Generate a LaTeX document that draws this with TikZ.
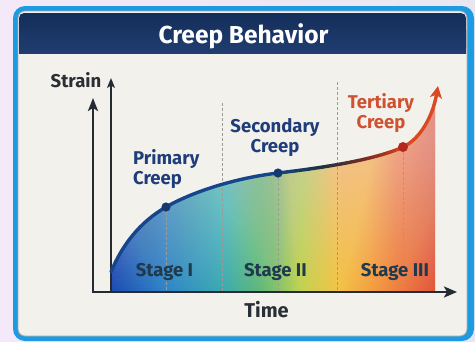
\documentclass[tikz,border=0pt]{standalone}
\usepackage{fontspec}
\setmainfont{Fira Sans}
\usetikzlibrary{arrows.meta}
\definecolor{pagebgL}{HTML}{F3E9F8}
\definecolor{pagebgR}{HTML}{E9E6F2}
\definecolor{cardblue}{HTML}{1D9BE2}
\definecolor{panel}{HTML}{F3F1EC}
\definecolor{panelline}{HTML}{A9A9A6}
\definecolor{navytop}{HTML}{152E5A}
\definecolor{navybot}{HTML}{1F3D6F}
\definecolor{axiscol}{HTML}{262B33}
\definecolor{labdark}{HTML}{2A2E35}
\definecolor{labblue}{HTML}{1E3D7A}
\definecolor{labred}{HTML}{CF5230}
\definecolor{stagecol}{HTML}{1F3A4C}
\definecolor{curveblue}{HTML}{17458C}
\definecolor{curvered}{HTML}{DA4A22}
\definecolor{dotblue}{HTML}{143870}
\definecolor{dotred}{HTML}{B2281D}
\definecolor{dashcol}{HTML}{9C9C94}
\definecolor{g0}{HTML}{17458C}
\definecolor{g1}{HTML}{1C3240}
\definecolor{g2}{HTML}{7E2A22}
\definecolor{g3}{HTML}{D6431F}
\definecolor{c0}{HTML}{1D4CB0}
\definecolor{c1}{HTML}{2F86C8}
\definecolor{c2}{HTML}{3AAAB0}
\definecolor{c3}{HTML}{62B878}
\definecolor{c3b}{HTML}{86C468}
\definecolor{c4}{HTML}{C2D24E}
\definecolor{c5}{HTML}{F2C445}
\definecolor{c6}{HTML}{F3A040}
\definecolor{c7}{HTML}{EC7640}
\definecolor{c8}{HTML}{E2553A}
\pgfdeclarehorizontalshading{rainbow}{100bp}{color(0bp)=(c0); color(25bp)=(c0); color(33.5bp)=(c1); color(42.1bp)=(c2); color(48bp)=(c3); color(50.8bp)=(c3b); color(54.2bp)=(c4); color(59.9bp)=(c5); color(65bp)=(c6); color(70.4bp)=(c7); color(75bp)=(c8); color(100bp)=(c8)}
\tikzset{
  lbl/.style={font=\fontsize{18.5}{20}\selectfont\bfseries, inner sep=0pt, align=center},
  stagelbl/.style={lbl, text=stagecol, anchor=base},
  axisline/.style={draw=axiscol, line width=2.4pt},
  guide/.style={draw=dashcol, line width=0.9pt, dash pattern=on 3pt off 2pt},
  curvestroke/.style={line width=3.4pt, line cap=round},
}
\begin{document}
\begin{tikzpicture}[x=1pt,y=-1pt]
  \useasboundingbox (0,0) rectangle (475,341);
  % page background
  \shade[left color=pagebgL, right color=pagebgR] (0,0) rectangle (475,341);
  % card
  \fill[cardblue, rounded corners=12pt] (13,6) rectangle (474,341);
  \filldraw[fill=panel, draw=panelline, line width=0.8pt, rounded corners=7pt] (18,11) rectangle (467,336);
  % header
  \shade[top color=navytop, bottom color=navybot, rounded corners=5pt] (19,13) rectangle (466,53);
  \shade[top color=navytop!50!navybot, bottom color=navybot] (19,30) rectangle (466,53);
  \node[font=\fontsize{24.5}{28}\selectfont\bfseries, text=white, anchor=base, inner sep=0pt] (title) at (243.5,43) {Creep Behavior};
  % key points
  \coordinate (p0) at (111,272);
  \coordinate (p1) at (166,207);
  \coordinate (p2) at (278,173);
  \coordinate (p3) at (403,147);
  \coordinate (tip) at (438,86);
  \coordinate (g1) at (222,103);
  \coordinate (g2) at (337,82);
  % filled area under the curve
  \begin{scope}
    \clip (111,60) rectangle (435,292);
    \clip (p0) .. controls (122,245) and (140,222) .. (p1)
               .. controls (192,192) and (235,178) .. (p2)
               .. controls (321,168) and (375,160) .. (p3)
               .. controls (421,138.6) and (433,115) .. (tip)
               -- (438,292) -- (111,292) -- cycle;
    \shade[shading=rainbow] (111,60) rectangle (435,292);
    \foreach \yy in {140,144,...,288}{
      \fill[white, fill opacity=0.015] (111,60) rectangle (435,\yy);
    }
  \end{scope}
  % guide lines
  \draw[guide] (p1) -- (p1 |- 0,292);
  \draw[guide] (g1) -- (g1 |- 0,292);
  \draw[guide] (p2) -- (p2 |- 0,292);
  \draw[guide] (g2) -- (g2 |- 0,292);
  \draw[guide] (p3) -- (p3 |- 0,292);
  % axes
  \coordinate (O) at (93,292);
  \coordinate (Ytop) at (93,98);
  \coordinate (Xend) at (457,292);
  \coordinate (Y2b) at (111,292);
  \coordinate (Y2t) at (111,78);
  \draw[axisline, {Stealth[length=13pt,width=10pt,inset=3pt]}-{Stealth[length=13pt,width=11pt,inset=3pt]}] (Ytop) -- (O) -- (Xend);
  \draw[draw=axiscol, line width=1.3pt, -{Stealth[length=10pt,width=8pt,inset=2.5pt]}] (Y2b) -- (Y2t);
  % curve: primary and early secondary (blue)
  \draw[curvestroke, curveblue] (p0) .. controls (122,245) and (140,222) .. (p1)
        .. controls (192,192) and (235,178) .. (p2);
  % curve: late secondary, colour turning from blue to red
  \foreach \i in {0,...,29}{
    \pgfmathsetmacro\ta{\i/30}
    \pgfmathsetmacro\tb{(\i+1)/30}
    \pgfmathsetmacro\xa{(1-\ta)^3*278+3*(1-\ta)^2*\ta*321+3*(1-\ta)*\ta^2*375+\ta^3*403}
    \pgfmathsetmacro\ya{(1-\ta)^3*173+3*(1-\ta)^2*\ta*168+3*(1-\ta)*\ta^2*160+\ta^3*147}
    \pgfmathsetmacro\xb{(1-\tb)^3*278+3*(1-\tb)^2*\tb*321+3*(1-\tb)*\tb^2*375+\tb^3*403}
    \pgfmathsetmacro\yb{(1-\tb)^3*173+3*(1-\tb)^2*\tb*168+3*(1-\tb)*\tb^2*160+\tb^3*147}
    \pgfmathsetmacro\s{(\i+0.5)/30*3}
    \pgfmathtruncatemacro\k{floor(\s)}
    \pgfmathsetmacro\f{(\s-\k)*100}
    \ifcase\k \colorlet{segc}{g1!\f!g0}\or \colorlet{segc}{g2!\f!g1}\else \colorlet{segc}{g3!\f!g2}\fi
    \draw[curvestroke, segc] (\xa,\ya) -- (\xb,\yb);
  }
  % curve: tertiary (red) with arrow
  \draw[curvestroke, line cap=butt, curvered, -{Stealth[length=12pt,width=12pt,inset=3pt]}] (p3) .. controls (421,138.6) and (433,115) .. (tip);
  \fill[dotblue] (p1) circle (4.6pt);
  \fill[dotblue] (p2) circle (4.6pt);
  \fill[dotred] (p3) circle (5pt);
  % labels
  \node[lbl, text=labdark, anchor=base] (strain) at (76,87) {Strain};
  \node[lbl, text=labdark, anchor=base, font=\fontsize{20}{22}\selectfont\bfseries] (time) at (266.5,317) {Time};
  \node[lbl, text=labblue, align=left, anchor=west] (primary) at (133,168.8) {Primary\\Creep};
  \node[lbl, text=labblue] (secondary) at (275,138) {Secondary\\Creep};
  \node[lbl, text=labred] (tertiary) at (381,113) {Tertiary\\Creep};
  \node[stagelbl] (s1) at (164.5,276) {Stage I};
  \node[stagelbl] (s2) at (275.5,276) {Stage II};
  \node[stagelbl] (s3) at (395,276) {Stage III};
\end{tikzpicture}
\end{document}
